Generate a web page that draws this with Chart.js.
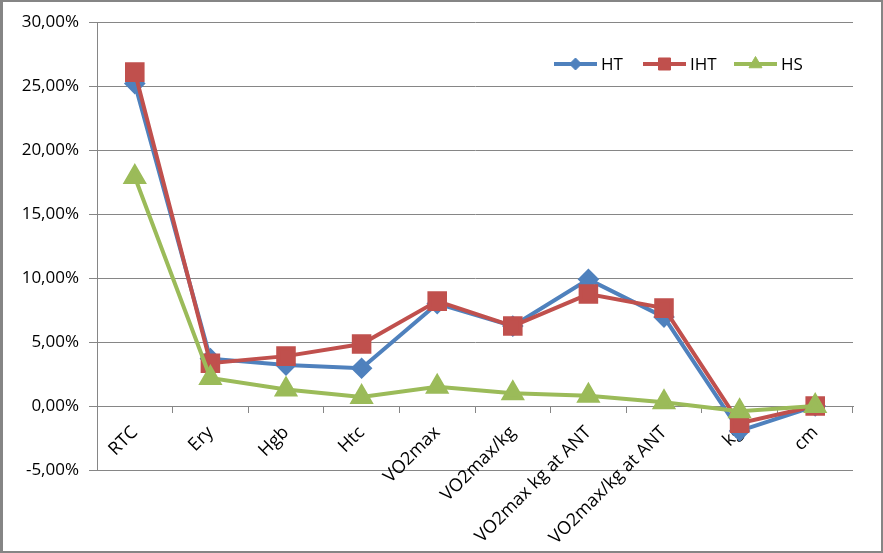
<!DOCTYPE html>
<html>
<head>
<meta charset="utf-8">
<script src="https://cdn.jsdelivr.net/npm/chart.js@4/dist/chart.umd.min.js"></script>
<style>
  body { margin: 0; background: #fff; }
  #frame {
    width: 883px; height: 553px; box-sizing: border-box;
    border: 2px solid #858585; border-left-width: 3px; background: #fff;
  }
  canvas { display: block; }
</style>
</head>
<body>
<div id="frame"><canvas id="myChart" width="878" height="549"></canvas></div>
<script>
// categories and values (in %)
const categories = ["RTC", "Ery", "Hgb", "Htc", "VO2max", "VO2max/kg",
  "VO2max kg at ANT", "VO2max/kg at ANT", "kg", "cm"];
const htValues  = [25.2, 3.7, 3.2, 2.95, 8.0, 6.25, 9.9, 6.95, -1.95, 0.0];
const ihtValues = [26.1, 3.35, 3.9, 4.85, 8.2, 6.25, 8.75, 7.65, -1.35, 0.0];
const hsValues  = [17.9, 2.2, 1.3, 0.7, 1.5, 1.0, 0.8, 0.3, -0.4, 0.0];
const yMin = -5, yMax = 30, yStep = 5;

const gridColor = "#868686";
const fontFamily = "'Open Sans', 'Liberation Sans', sans-serif";

// legend drawn inside the plot, top right
const legendPlugin = {
  id: "insideLegend",
  afterDraw(chart) {
    const ctx = chart.ctx;
    const startX = [551, 640, 731];
    const y = 62;
    ctx.save();
    chart.data.datasets.forEach((ds, i) => {
      const x = startX[i];
      ctx.strokeStyle = ds.borderColor;
      ctx.fillStyle = ds.borderColor;
      ctx.lineWidth = 4;
      ctx.beginPath();
      ctx.moveTo(x, y);
      ctx.lineTo(x + 43, y);
      ctx.stroke();
      ctx.lineWidth = 1;
      Chart.helpers.drawPoint(ctx, {
        pointStyle: ds.pointStyle,
        radius: ds.legendRadius,
        rotation: 0,
        borderWidth: 1,
      }, x + 21.5, y);
      ctx.fillStyle = "#000";
      ctx.font = "17px " + fontFamily;
      ctx.textBaseline = "middle";
      ctx.textAlign = "left";
      ctx.fillText(ds.label, x + 47, y + 1);
    });
    ctx.restore();
  },
};

const ctx = document.getElementById("myChart").getContext("2d");
const myChart = new Chart(ctx, {
  type: "line",
  data: {
    labels: categories,
    datasets: [
      {
        label: "HT",
        data: htValues,
        borderColor: "#4F81BD",
        backgroundColor: "#4F81BD",
        pointBackgroundColor: "#4F81BD",
        pointBorderColor: "#4F81BD",
        pointStyle: "rectRot",
        pointRadius: 8,
        legendRadius: 6,
        borderWidth: 4,
        order: 3,
      },
      {
        label: "IHT",
        data: ihtValues,
        borderColor: "#C0504D",
        backgroundColor: "#C0504D",
        pointBackgroundColor: "#C0504D",
        pointBorderColor: "#C0504D",
        pointStyle: "rect",
        pointRadius: 11,
        legendRadius: 8.5,
        borderWidth: 4,
        order: 2,
      },
      {
        label: "HS",
        data: hsValues,
        borderColor: "#9BBB59",
        backgroundColor: "#9BBB59",
        pointBackgroundColor: "#9BBB59",
        pointBorderColor: "#9BBB59",
        pointStyle: "triangle",
        pointRadius: 10,
        legendRadius: 7.5,
        borderWidth: 4,
        order: 1,
      },
    ],
  },
  options: {
    responsive: false,
    animation: false,
    layout: { padding: { left: 0, top: 20, right: 28, bottom: 81 } },
    plugins: {
      legend: { display: false },
      tooltip: { enabled: false },
    },
    elements: { line: { tension: 0 }, point: { borderWidth: 1 } },
    scales: {
      x: {
        type: "category",
        position: { y: 0 },
        offset: true,
        grid: {
          offset: true,
          drawOnChartArea: false,
          drawTicks: true,
          tickLength: 6,
          color: gridColor,
        },
        border: { color: gridColor, width: 1 },
        ticks: {
          autoSkip: false,
          minRotation: 45,
          maxRotation: 45,
          padding: 10,
          color: "#000",
          font: { family: fontFamily, size: 18 },
        },
      },
      y: {
        min: yMin,
        max: yMax,
        grid: { color: gridColor, tickLength: 8 },
        border: { color: gridColor, width: 1 },
        ticks: {
          stepSize: yStep,
          padding: 10,
          color: "#000",
          font: { family: fontFamily, size: 17 },
          callback: (v) => v.toFixed(2).replace(".", ",") + "%",
        },
        afterFit: (scale) => {
          scale.width = 94;
        },
      },
    },
  },
  plugins: [legendPlugin],
});
</script>
</body>
</html>
